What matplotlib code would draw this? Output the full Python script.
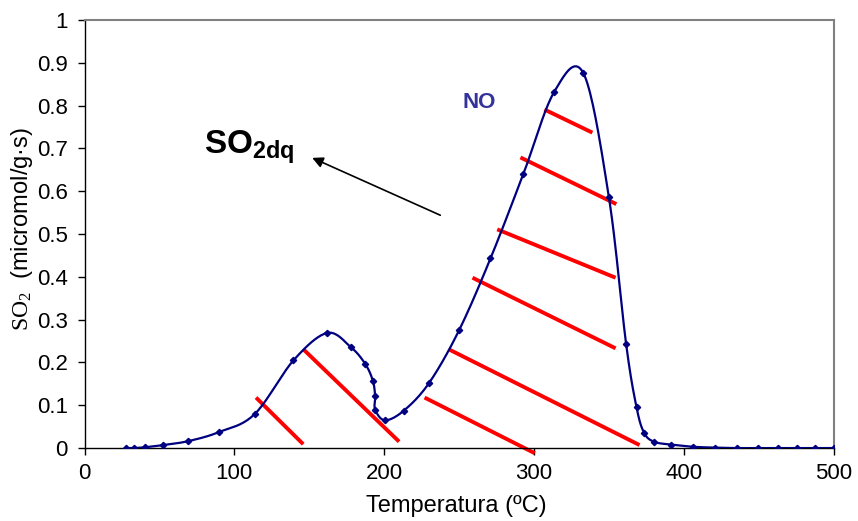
import numpy as np
import matplotlib
matplotlib.use("Agg")
import matplotlib.pyplot as plt
from matplotlib.ticker import MultipleLocator, FuncFormatter

plt.rcParams["font.family"] = ["Liberation Sans", "DejaVu Sans"]
plt.rcParams["mathtext.fontset"] = "custom"
plt.rcParams["mathtext.rm"] = "Liberation Serif"
plt.rcParams["mathtext.bf"] = "Liberation Sans:bold"

# perfil TPD de SO2
temp = [28, 33, 40.5, 52.5, 69, 89.5, 113.5, 139.5, 162, 178, 187.5, 192.5,
        194, 194, 200.5, 213, 230, 250, 271, 293, 313.5, 333, 350, 361.5,
        368.5, 373.5, 380, 391.5, 406.5, 421, 435.5, 449.5, 463, 475.5,
        487.5, 500]
so2 = [0.0, 0.0, 0.002, 0.007, 0.016, 0.037, 0.079, 0.205, 0.269, 0.235,
       0.196, 0.157, 0.121, 0.09, 0.065, 0.087, 0.152, 0.275, 0.443, 0.641,
       0.832, 0.876, 0.587, 0.244, 0.095, 0.036, 0.015, 0.008, 0.003, 0.001,
       0.0, 0.0, 0.0, 0.0, 0.0, 0.0]

# rayado rojo bajo los picos
hatch_x0 = [114.5, 146, 227, 243, 259, 275.5, 291, 307]
hatch_y0 = [0.118, 0.231, 0.118, 0.231, 0.398, 0.511, 0.679, 0.791]
hatch_x1 = [146, 210, 300.5, 370.5, 354.5, 354.5, 355, 339]
hatch_y1 = [0.009, 0.015, -0.012, 0.007, 0.233, 0.398, 0.570, 0.737]


def catmull_rom(xs, ys, n=20):
    # curva suavizada tipo Excel que pasa por todos los puntos
    p = np.column_stack([xs, ys]).astype(float)
    p = np.vstack([p[0], p, p[-1]])
    out = []
    t = np.linspace(0, 1, n, endpoint=False)[:, None]
    for i in range(1, len(p) - 2):
        p0, p1, p2, p3 = p[i - 1], p[i], p[i + 1], p[i + 2]
        seg = 0.5 * ((2 * p1) + (-p0 + p2) * t
                     + (2 * p0 - 5 * p1 + 4 * p2 - p3) * t ** 2
                     + (-p0 + 3 * p1 - 3 * p2 + p3) * t ** 3)
        out.append(seg)
    out.append(p[-2][None, :])
    out = np.vstack(out)
    return out[:, 0], out[:, 1]


fig = plt.figure(figsize=(8.58, 5.21), dpi=100)
ax = fig.add_axes([0.0985, 0.140, 0.873, 0.8215])

sx, sy = catmull_rom(temp, so2)
ax.plot(sx, sy, color="#000080", lw=1.6, zorder=3)
ax.plot(temp, so2, ls="none", marker="D", ms=3.2, color="#000080", zorder=4)

for x0, y0, x1, y1 in zip(hatch_x0, hatch_y0, hatch_x1, hatch_y1):
    ax.plot([x0, x1], [y0, y1], color="#ff0000", lw=2.8,
            solid_capstyle="butt", clip_on=False, zorder=2)

ax.text(80, 0.687, r"$\mathbf{SO_{2dq}}$", fontsize=24, va="baseline")
ax.annotate("", xy=(152, 0.678), xytext=(237.5, 0.544),
            arrowprops=dict(arrowstyle="-|>", color="black", lw=1.2,
                            mutation_scale=16, shrinkA=0, shrinkB=0))
ax.text(252, 0.794, "NO", fontsize=16, fontweight="bold", color="#333399",
        va="baseline")

ax.set_xlim(0, 500)
ax.set_ylim(0, 1)
ax.xaxis.set_major_locator(MultipleLocator(100))
ax.yaxis.set_major_locator(MultipleLocator(0.1))
ax.yaxis.set_major_formatter(FuncFormatter(lambda v, _: f"{v:g}"))
ax.tick_params(labelsize=16, length=5, width=1, color="black")
ax.tick_params(axis="x", pad=6)
ax.tick_params(axis="y", pad=7)

for side in ("top", "right"):
    ax.spines[side].set_color("#808080")
    ax.spines[side].set_linewidth(1.5)
for side in ("left", "bottom"):
    ax.spines[side].set_color("black")
    ax.spines[side].set_linewidth(1.0)

ax.set_xlabel("Temperatura (ºC)", fontsize=17)
ax.set_ylabel(r"$\mathrm{SO_2}$  (micromol/g·s)", fontsize=17)
ax.xaxis.set_label_coords(0.497, -0.11)
ax.yaxis.set_label_coords(-0.066, 0.512)

fig.savefig("out.png", dpi=100)
